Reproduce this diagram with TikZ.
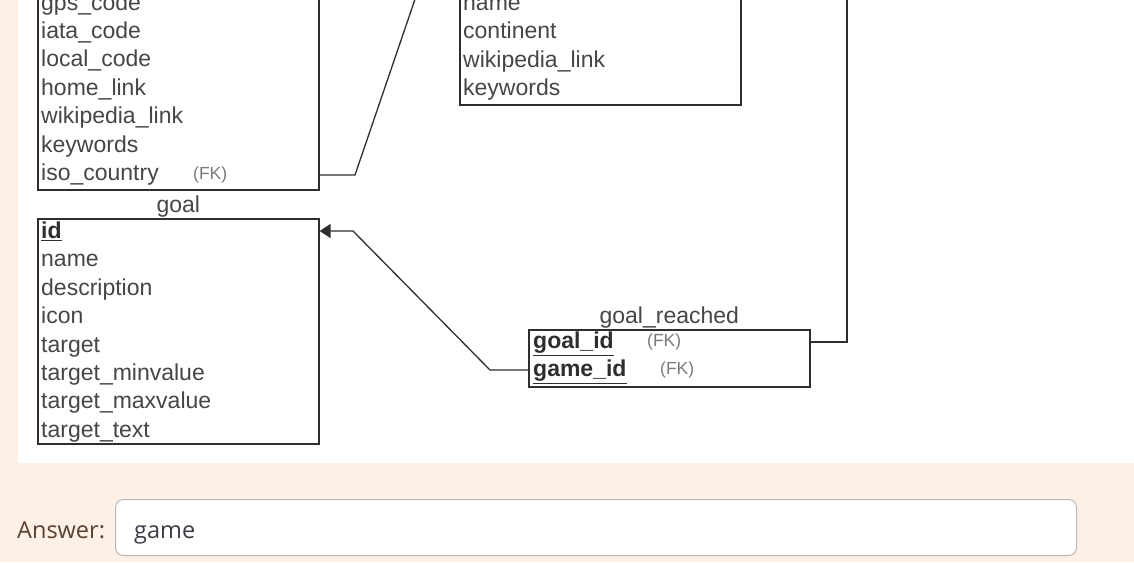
\documentclass[tikz,border=0pt]{standalone}
\usepackage{fontspec}
\setmainfont{Liberation Sans}
\newfontfamily\answerfont{Open Sans}
\usepackage{tikz}
\usetikzlibrary{positioning}
\usetikzlibrary{arrows.meta}
\definecolor{peach}{HTML}{FDF0E7}
\definecolor{ink}{HTML}{2E2E2E}
\definecolor{fieldgray}{HTML}{464646}
\definecolor{fkgray}{HTML}{7A7A7A}
\definecolor{answerbrown}{HTML}{5A4232}
\definecolor{answerink}{HTML}{3C3C46}
\definecolor{inputborder}{HTML}{B8B8B8}
\tikzset{
    every picture/.append style={
        >={Triangle[length=11pt,width=14pt]}
    }
}
\tikzset{
    entity/.style={draw=ink, line width=1.6pt, fill=white, inner sep=0pt, minimum width=281pt, anchor=north west},
    field/.style={text width=272pt, text height=16pt, text depth=5pt, minimum height=28pt, inner sep=0pt, align=left, text=fieldgray, font=\fontsize{23}{25}\selectfont},
    keyfield/.style={field, text=ink, font=\fontsize{23}{25}\selectfont\bfseries},
    fk/.style={inner sep=0pt, anchor=west, text=fkgray, font=\fontsize{17.5}{19}\selectfont},
    tabletitle/.style={inner sep=0pt, text=fieldgray, font=\fontsize{23}{25}\selectfont},
    link/.style={draw=ink, line width=1.3pt},
}
\begin{document}
\begin{tikzpicture}[x=1pt, y=-1pt]
		\clip (0,0) rectangle (1134,562);
		\fill[peach] (0,0) rectangle (1134,562);
		\fill[white] (18,0) rectangle (1134,463);

		% airport (upper part is cut off)
		\node[entity, minimum height=241pt, anchor=south west] (airport) at (37,191) {};
		\node[field, anchor=west] (isocountry) at (41,175) {iso\_country};
		\node[field, above=0pt of isocountry] (keywordsA) {keywords};
		\node[field, above=0pt of keywordsA] (wikiA) {wikipedia\_link};
		\node[field, above=0pt of wikiA] (homelink) {home\_link};
		\node[field, above=0pt of homelink] (localcode) {local\_code};
		\node[field, above=0pt of localcode] (iatacode) {iata\_code};
		\node[field, above=0pt of iatacode] (gpscode) {gps\_code};
		\node[fk] (isofk) at (193,175) {(FK)};

		% country (upper part is cut off)
		\node[entity, minimum height=200pt, anchor=south west] (country) at (459,106) {};
		\node[field, anchor=west] (keywordsB) at (463,90) {keywords};
		\node[field, above=0pt of keywordsB] (wikiB) {wikipedia\_link};
		\node[field, above=0pt of wikiB] (continent) {continent};
		\node[field, above=0pt of continent] (nameB) {name};

		% goal
		\node[entity, minimum height=225pt] (goal) at (37,218) {};
		\node[tabletitle, above=1pt of goal] (goaltitle) {goal};
		\node[keyfield, anchor=west] (goalid) at (41,233) {\underline{id}};
		\node[field, below=0pt of goalid] (goalname) {name};
		\node[field, below=0pt of goalname] (description) {description};
		\node[field, below=0pt of description] (icon) {icon};
		\node[field, below=0pt of icon] (target) {target};
		\node[field, below=0pt of target] (minvalue) {target\_minvalue};
		\node[field, below=0pt of minvalue] (maxvalue) {target\_maxvalue};
		\node[field, below=0pt of maxvalue] (targettext) {target\_text};

		% goal_reached
		\node[entity, minimum height=57pt] (reached) at (528,329) {};
		\node[tabletitle, above=1pt of reached] (reachedtitle) {goal\_reached};
		\node[keyfield, anchor=west] (rgoalid) at (533,343) {\underline{goal\_id}};
		\node[keyfield, below=0pt of rgoalid] (rgameid) {\underline{game\_id}};
		\node[fk] (goalfk) at (647,342) {(FK)};
		\node[fk] (gamefk) at (660,370) {(FK)};

		% connectors
		\coordinate (isoport) at (airport.east |- isofk);
		\coordinate (bendA) at (355,175);
		\coordinate (tocountry) at (425,-30);
		\draw[link] (isoport) -- (bendA) -- (tocountry);

		\coordinate (goalidport) at (reached.east |- goalfk);
		\coordinate (bendB) at (847,342);
		\coordinate (togame) at (847,-30);
		\draw[link] (goalidport) -- (bendB) -- (togame);

		\coordinate (gameidport) at (reached.west |- gamefk);
		\coordinate (bendC) at (490,370);
		\coordinate (bendD) at (353,231);
		\coordinate (idport) at (goal.east |- bendD);
		\draw[link, ->] (gameidport) -- (bendC) -- (bendD) -- (idport);

		% answer line
		\node[anchor=base west, inner sep=0pt, text=answerbrown, font=\answerfont\fontsize{23.5}{26}\selectfont] (answerlabel) at (17,538) {Answer:};
		\node[draw=inputborder, line width=1pt, rounded corners=8pt, fill=white, minimum width=961pt, minimum height=56pt, anchor=north west] (answerbox) at (115,499) {};
		\node[anchor=base west, inner sep=0pt, text=answerink, font=\answerfont\fontsize{23.5}{26}\selectfont] (answertext) at (134,538) {game};
\end{tikzpicture}
\end{document}
